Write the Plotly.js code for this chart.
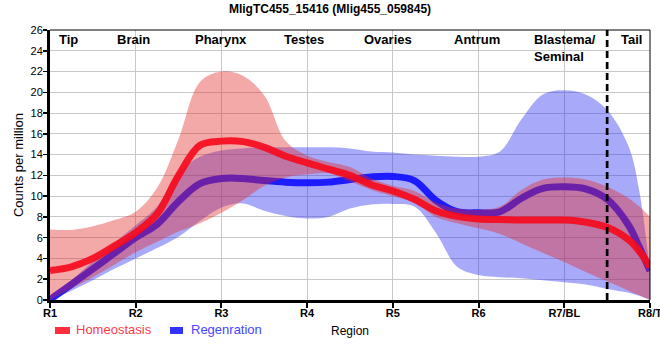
<!DOCTYPE html>
<html><head><meta charset="utf-8">
<script src="https://cdn.plot.ly/plotly-3.0.1.min.js"></script>
<style>html,body{margin:0;padding:0;background:#fff}#chart{width:660px;height:360px}</style>
</head><body><div id="chart"></div>
<script>
// ---- data ----
const regionTicks = ['R1','R2','R3','R4','R5','R6','R7/BL','R8/T'];
const tissueLabels = ['Tip','Brain','Pharynx','Testes','Ovaries','Antrum','Blastema/<br>Seminal','Tail'];
const seriesNames = ['Homeostasis','Regenration'];
const chartTitle = 'MligTC455_15416 (Mlig455_059845)';
const xPos = [0,0.25,0.5,0.75,1,1.25,1.5,1.75,2,2.25,2.5,2.75,3,3.25,3.5,3.75,4,4.25,4.5,4.75,5,5.25,5.5,5.75,6,6.25,6.5,6.75,6.875,7];
const homeoMean  = [2.85,3.2,4.0,5.2,6.5,8.3,12.0,14.9,15.3,15.25,14.7,13.85,13.2,12.6,12.0,11.1,10.5,9.7,8.6,8.05,7.8,7.75,7.7,7.7,7.7,7.5,7.0,5.8,4.7,3.2];
const homeoUpper = [6.8,6.75,7.1,7.7,8.5,10.8,15.5,21.0,22.0,21.6,19.7,15.3,13.9,13.3,12.8,11.7,11.0,10.5,9.4,8.8,8.7,9.0,10.6,11.6,11.8,11.6,10.9,9.8,9.0,8.0];
const homeoLower = [0,1.1,2.2,3.4,4.6,5.6,6.6,7.4,8.4,9.6,11.0,11.8,12.1,12.2,11.4,10.6,10.0,9.4,8.0,7.4,6.9,6.35,5.45,4.55,3.65,2.7,1.8,0.9,0.45,0];
const regenMean  = [0.05,1.5,3.0,4.5,6.0,7.3,9.5,11.2,11.7,11.7,11.5,11.35,11.3,11.35,11.6,11.85,11.9,11.5,9.6,8.5,8.4,8.5,9.8,10.75,10.9,10.7,9.7,7.2,5.1,2.8];
const regenUpper = [0,1.9,3.7,5.5,7.2,9.0,12.3,13.8,14.4,14.6,14.7,14.7,14.7,14.7,14.6,14.3,14.2,14.0,13.9,13.8,13.8,14.3,17.4,19.8,20.2,19.8,18.3,14.8,10.5,2.8];
const regenLower = [0,0.9,1.9,3.0,4.0,5.0,6.1,7.6,8.9,9.3,8.6,8.1,7.85,8.0,8.8,9.2,9.25,9.0,6.5,3.2,2.4,2.2,2.1,1.9,1.7,1.5,1.07,0.7,0.4,0];
const tailBoundary = 6.5;

// ---- styles ----
const RED_FILL = 'rgba(228,40,40,0.4)';
const BLUE_FILL = 'rgba(40,40,240,0.4)';
const RED_LINE = 'rgba(245,12,30,0.92)';
const BLUE_LINE = 'rgba(20,20,255,0.95)';
const FONT = '"Liberation Sans", Arial, sans-serif';

function band(upper, lower, color){
  return [
    {x:xPos, y:upper, type:'scatter', mode:'lines', line:{width:0, shape:'spline', smoothing:1, color:color}, hoverinfo:'skip', showlegend:false},
    {x:xPos, y:lower, type:'scatter', mode:'lines', line:{width:0, shape:'spline', smoothing:1, color:color}, fill:'tonexty', fillcolor:color, hoverinfo:'skip', showlegend:false}
  ];
}
const traces = [
  ...band(regenUpper, regenLower, BLUE_FILL),
  {x:xPos, y:regenMean, type:'scatter', mode:'lines', name:seriesNames[1], line:{color:BLUE_LINE, width:7, shape:'spline', smoothing:1}, showlegend:false},
  ...band(homeoUpper, homeoLower, RED_FILL),
  {x:xPos, y:homeoMean, type:'scatter', mode:'lines', name:seriesNames[0], line:{color:RED_LINE, width:7, shape:'spline', smoothing:1}, showlegend:false}
];

const labelX = [0.22,0.97,2.0,2.965,3.94,4.98,6.01,6.78];
const annotations = tissueLabels.map((t,i)=>({
  text:t, x:labelX[i], xref:'x', y:1, yref:'paper', yanchor:'top', xanchor:'center', align:'left',
  showarrow:false, font:{family:FONT, size:13, color:'#000', weight:'bold'}
}));
annotations.push(
  {text:seriesNames[0], x:0.04, xref:'paper', y:-0.111, yref:'paper', xanchor:'left', yanchor:'middle', showarrow:false,
   font:{family:FONT, size:13, color:'rgba(255,40,55,0.95)'}},
  {text:seriesNames[1], x:0.2317, xref:'paper', y:-0.111, yref:'paper', xanchor:'left', yanchor:'middle', showarrow:false,
   font:{family:FONT, size:13, color:'#4545ff'}}
);

const shapes = [
  {type:'line', xref:'paper', yref:'paper', x0:0, x1:1, y0:1, y1:1, line:{color:'#000', width:1}},
  {type:'line', xref:'paper', yref:'paper', x0:1, x1:1, y0:0, y1:1, line:{color:'#000', width:1}},
  {type:'line', xref:'x', yref:'paper', x0:tailBoundary, x1:tailBoundary, y0:0, y1:1, layer:'above', line:{color:'#000', width:2.7, dash:'7px,4px'}},
  {type:'rect', xref:'paper', yref:'paper', x0:0.0083, x1:0.0333, y0:-0.126, y1:-0.1, line:{width:0}, fillcolor:'rgba(255,35,50,0.95)'},
  {type:'rect', xref:'paper', yref:'paper', x0:0.2, x1:0.2217, y0:-0.126, y1:-0.1, line:{width:0}, fillcolor:'#3333ff'}
];

const layout = {
  width:660, height:360,
  margin:{l:50, r:10, t:30, b:60},
  paper_bgcolor:'#fff', plot_bgcolor:'#fff',
  font:{family:FONT, color:'#000'},
  showlegend:false,
  title:{text:chartTitle, font:{family:FONT, size:12, weight:'bold', color:'#000'}, x:0.5, xanchor:'center', y:0.975, yanchor:'middle'},
  xaxis:{
    range:[0,7], tickmode:'array', tickvals:regionTicks.map((_,i)=>i), ticktext:regionTicks,
    showgrid:true, gridcolor:'#c8c8c8', gridwidth:1, zeroline:false,
    showline:true, linecolor:'#000', linewidth:3,
    ticks:'outside', ticklen:5, tickwidth:2, tickcolor:'#000',
    ticklabeloverflow:'allow', ticklabelstandoff:-4,
    tickfont:{family:FONT, size:11, weight:'bold', color:'#000'},
    title:{text:'Region', font:{family:FONT, size:12, color:'#000'}, standoff:9}
  },
  yaxis:{
    range:[0,26], tick0:0, dtick:2,
    showgrid:true, gridcolor:'#c8c8c8', gridwidth:1, zeroline:false,
    showline:true, linecolor:'#000', linewidth:3,
    ticks:'outside', ticklen:4, tickwidth:1.5, tickcolor:'#000',
    ticklabelstandoff:-2,
    tickfont:{family:FONT, size:11, color:'#000'},
    title:{text:'Counts per million', font:{family:FONT, size:13, color:'#000'}, standoff:4}
  },
  annotations:annotations,
  shapes:shapes
};

Plotly.newPlot('chart', traces, layout, {displayModeBar:false, staticPlot:true});
</script>
</body></html>
